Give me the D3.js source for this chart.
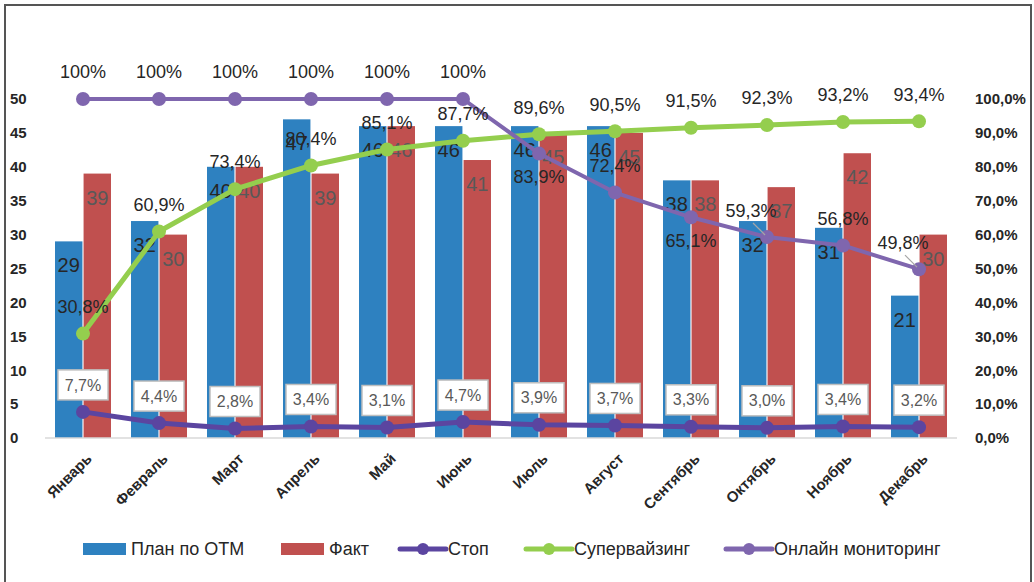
<!DOCTYPE html>
<html>
<head>
<meta charset="utf-8">
<script src="https://cdn.jsdelivr.net/npm/d3@7"></script>
<style>
  body { margin: 0; background: #fff; }
  svg { display: block; font-family: "Liberation Sans", Arial, sans-serif; }
</style>
</head>
<body>
<svg id="chart" width="1034" height="582"></svg>
<script>
// data
var months = ["Январь", "Февраль", "Март", "Апрель", "Май", "Июнь", "Июль", "Август", "Сентябрь", "Октябрь", "Ноябрь", "Декабрь"];
var plan = [29, 32, 40, 47, 46, 46, 46, 46, 38, 32, 31, 21];
var fact = [39, 30, 40, 39, 46, 41, 45, 45, 38, 37, 42, 30];
var stop = [7.7, 4.4, 2.8, 3.4, 3.1, 4.7, 3.9, 3.7, 3.3, 3.0, 3.4, 3.2];
var supervising = [30.8, 60.9, 73.4, 80.4, 85.1, 87.7, 89.6, 90.5, 91.5, 92.3, 93.2, 93.4];
var online = [100, 100, 100, 100, 100, 100, 83.9, 72.4, 65.1, 59.3, 56.8, 49.8];
var leftTicks = [0, 5, 10, 15, 20, 25, 30, 35, 40, 45, 50];
var rightTicks = [0, 10, 20, 30, 40, 50, 60, 70, 80, 90, 100];
// where the online monitoring labels sit: a = above, b = below, al = above-left with a leader
var onlineLabelPos = ["a", "a", "a", "a", "a", "a", "b", "a", "b", "al", "a", "al"];

var colors = {
  plan: "#2E81C0",
  fact: "#C0504F",
  stop: "#5B45A0",
  sup: "#94CE4E",
  online: "#7F66AE"
};

var svg = d3.select("#chart");

// frame
svg.append("path")
  .attr("d", "M5,582 V5 H1031 V582")
  .attr("fill", "none")
  .attr("stroke", "#555")
  .attr("stroke-width", 2);

var x = d3.scaleBand().domain(months).range([45, 957]);
var x1 = d3.scaleBand().domain(["plan", "fact"]).range([10, 66]).paddingInner(0.04);
var y = d3.scaleLinear().domain([0, 50]).range([438, 99]);
var yR = d3.scaleLinear().domain([0, 100]).range([438, 99]);
var cx = function(i) { return x(months[i]) + x.bandwidth() / 2; };
var fmt = function(v) { return d3.format(".1f")(v).replace(".", ","); };

// left axis
var la = svg.append("g")
  .attr("transform", "translate(10,0)")
  .call(d3.axisRight(y).tickValues(leftTicks).tickSize(0).tickPadding(0));
la.select(".domain").remove();
la.selectAll("text")
  .attr("font-size", 15).attr("font-weight", "bold").attr("fill", "#262626")
  .attr("font-family", "Liberation Sans, Arial, sans-serif");

// right axis
var ra = svg.append("g")
  .attr("transform", "translate(975,0)")
  .call(d3.axisRight(yR).tickValues(rightTicks).tickSize(0).tickPadding(0)
    .tickFormat(function(d) { return fmt(d) + "%"; }));
ra.select(".domain").remove();
ra.selectAll("text")
  .attr("font-size", 15).attr("font-weight", "bold").attr("fill", "#262626")
  .attr("font-family", "Liberation Sans, Arial, sans-serif");

// bars
var groups = svg.append("g").selectAll("g")
  .data(months)
  .enter().append("g")
  .attr("transform", function(d) { return "translate(" + x(d) + ",0)"; });

groups.append("rect")
  .attr("x", x1("plan"))
  .attr("width", x1.bandwidth())
  .attr("y", function(d, i) { return y(plan[i]); })
  .attr("height", function(d, i) { return y(0) - y(plan[i]); })
  .attr("fill", colors.plan);

groups.append("rect")
  .attr("x", x1("fact"))
  .attr("width", x1.bandwidth())
  .attr("y", function(d, i) { return y(fact[i]); })
  .attr("height", function(d, i) { return y(0) - y(fact[i]); })
  .attr("fill", colors.fact);

// baseline
svg.append("line")
  .attr("x1", 45).attr("x2", 957)
  .attr("y1", y(0)).attr("y2", y(0))
  .attr("stroke", "#d9d9d9").attr("stroke-width", 1.5);

// x labels
svg.append("g").selectAll("text")
  .data(months)
  .enter().append("text")
  .attr("transform", function(d, i) { return "translate(" + (cx(i) + 6) + ",456) rotate(-45)"; })
  .attr("text-anchor", "end")
  .attr("dy", "0.35em")
  .attr("font-size", 15)
  .attr("font-weight", "bold")
  .attr("fill", "#262626")
  .text(function(d) { return d; });

// lines
var line = function(vals) {
  return d3.line()
    .x(function(d, i) { return cx(i); })
    .y(function(d) { return yR(d); })(vals);
};

function drawSeries(vals, color, width) {
  svg.append("path")
    .attr("d", line(vals))
    .attr("fill", "none")
    .attr("stroke", color)
    .attr("stroke-width", width)
    .attr("stroke-linejoin", "round");
  svg.append("g").selectAll("circle")
    .data(vals)
    .enter().append("circle")
    .attr("cx", function(d, i) { return cx(i); })
    .attr("cy", function(d) { return yR(d); })
    .attr("r", 7)
    .attr("fill", color);
}

drawSeries(supervising, colors.sup, 5);
drawSeries(online, colors.online, 4);
drawSeries(stop, colors.stop, 5);

// bar labels
groups.append("text")
  .attr("x", x1("plan") + x1.bandwidth() / 2)
  .attr("y", function(d, i) { return y(plan[i]) + 24; })
  .attr("dy", "0.35em")
  .attr("text-anchor", "middle")
  .attr("font-size", 20)
  .attr("fill", "#262626")
  .text(function(d, i) { return plan[i]; });

groups.append("text")
  .attr("x", x1("fact") + x1.bandwidth() / 2)
  .attr("y", function(d, i) { return y(fact[i]) + 24; })
  .attr("dy", "0.35em")
  .attr("text-anchor", "middle")
  .attr("font-size", 20)
  .attr("fill", "#595959")
  .text(function(d, i) { return fact[i]; });

// supervising labels
svg.append("g").selectAll("text")
  .data(supervising)
  .enter().append("text")
  .attr("x", function(d, i) { return cx(i); })
  .attr("y", function(d) { return yR(d) - 27; })
  .attr("dy", "0.35em")
  .attr("text-anchor", "middle")
  .attr("font-size", 18)
  .attr("fill", "#262626")
  .text(function(d) { return fmt(d) + "%"; });

// online labels
var onl = svg.append("g");
online.forEach(function(v, i) {
  var pos = onlineLabelPos[i];
  var px = cx(i), py = yR(v);
  var lx = px, ly = py - 27;
  if (pos === "b") ly = py + 23;
  if (pos === "al") { lx = px - 16; ly = py - 26; }
  if (pos === "al") {
    onl.append("line")
      .attr("x1", px - 14).attr("y1", py - 14)
      .attr("x2", px - 2).attr("y2", py - 2)
      .attr("stroke", "#a6a6a6").attr("stroke-width", 1.2);
  }
  onl.append("text")
    .attr("x", lx).attr("y", ly)
    .attr("dy", "0.35em")
    .attr("text-anchor", "middle")
    .attr("font-size", 18)
    .attr("fill", "#262626")
    .text(v === 100 ? "100%" : fmt(v) + "%");
});

// stop labels in boxes
var sl = svg.append("g").selectAll("g")
  .data(stop)
  .enter().append("g")
  .attr("transform", function(d, i) { return "translate(" + cx(i) + "," + (yR(d) - 27) + ")"; });
sl.append("rect")
  .attr("x", -25).attr("y", -15)
  .attr("width", 50).attr("height", 30)
  .attr("fill", "#fff")
  .attr("stroke", "#bfbfbf")
  .attr("stroke-width", 1.5);
sl.append("text")
  .attr("text-anchor", "middle")
  .attr("dy", "0.35em")
  .attr("font-size", 16)
  .attr("fill", "#595959")
  .text(function(d) { return fmt(d) + "%"; });

// legend
var legendItems = [
  { name: "План по ОТМ", color: colors.plan, type: "rect", x: 83 },
  { name: "Факт", color: colors.fact, type: "rect", x: 281 },
  { name: "Стоп", color: colors.stop, type: "line", x: 400 },
  { name: "Супервайзинг", color: colors.sup, type: "line", x: 526 },
  { name: "Онлайн мониторинг", color: colors.online, type: "line", x: 726 }
];
var lg = svg.append("g").selectAll("g")
  .data(legendItems)
  .enter().append("g")
  .attr("transform", function(d) { return "translate(" + d.x + ",549)"; });
lg.filter(function(d) { return d.type === "rect"; })
  .append("rect")
  .attr("x", 0).attr("y", -6)
  .attr("width", 43).attr("height", 12)
  .attr("fill", function(d) { return d.color; });
lg.filter(function(d) { return d.type === "line"; })
  .append("line")
  .attr("x1", 0).attr("x2", 46)
  .attr("y1", 0).attr("y2", 0)
  .attr("stroke", function(d) { return d.color; })
  .attr("stroke-width", 5)
  .attr("stroke-linecap", "round");
lg.filter(function(d) { return d.type === "line"; })
  .append("circle")
  .attr("cx", 23).attr("cy", 0).attr("r", 6)
  .attr("fill", function(d) { return d.color; });
lg.append("text")
  .attr("x", 48)
  .attr("dy", "0.35em")
  .attr("font-size", 18)
  .attr("fill", "#262626")
  .text(function(d) { return d.name; });
</script>
</body>
</html>
